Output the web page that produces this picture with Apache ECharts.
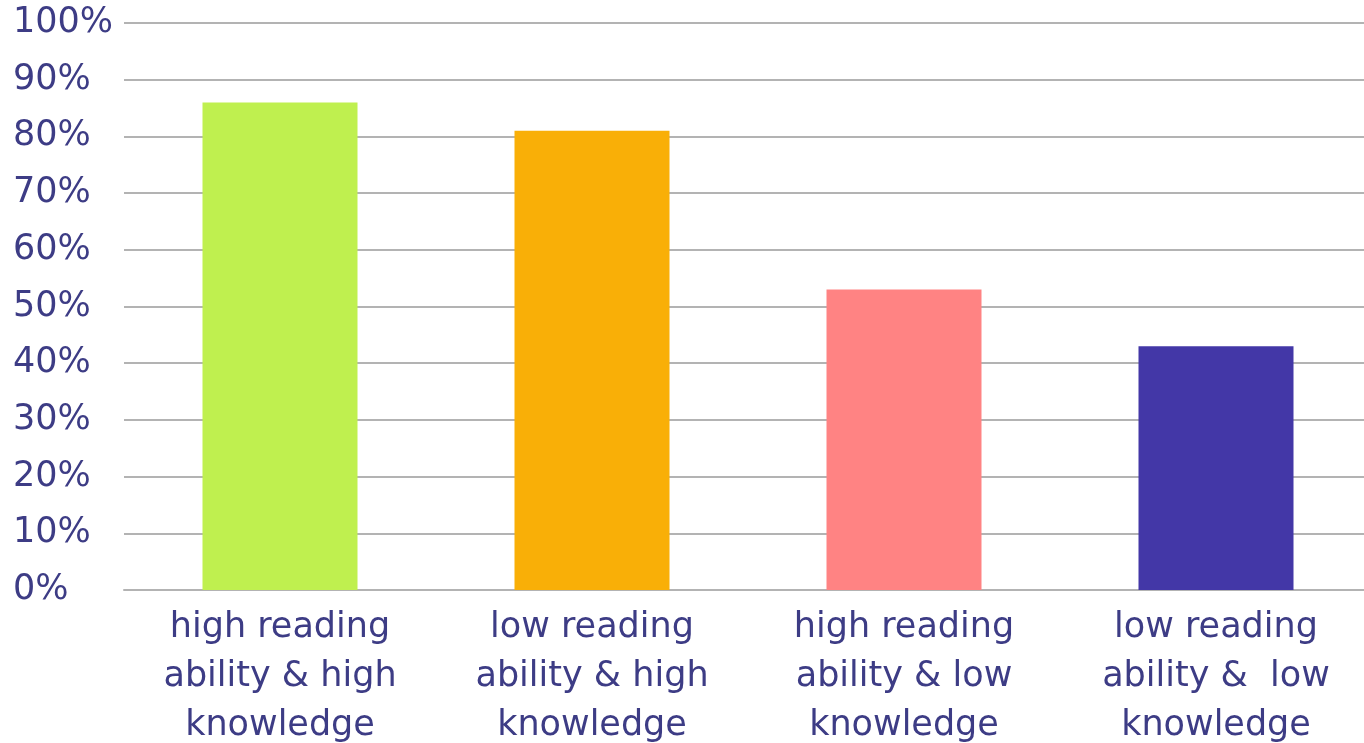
<!DOCTYPE html>
<html>
<head>
<meta charset="utf-8">
<script src="https://cdn.jsdelivr.net/npm/echarts@6/dist/echarts.min.js"></script>
<style>
  html, body { margin: 0; padding: 0; background: #fff; }
  #chart { width: 1364px; height: 743px; }
</style>
</head>
<body>
<div id="chart"></div>
<script>
const categories = [
  'high reading\nability & high\nknowledge',
  'low reading\nability & high\nknowledge',
  'high reading\nability & low\nknowledge',
  'low reading\nability &  low\nknowledge'
]
const values = [86, 81, 53, 43]
const colors = ['#bff04f', '#f9af07', '#ff8383', '#4337a7']

const dataOptions = values.map((v, i) => ({
  value: v,
  itemStyle: { color: colors[i] }
}))

const chart = echarts.init(document.getElementById('chart'))
chart.setOption({
  animation: false,
  grid: {
    left: 124,
    top: 23,
    width: 1248,
    bottom: 153,
    containLabel: false,
    outerBoundsMode: 'none'
  },
  xAxis: {
    type: 'category',
    data: categories,
    axisTick: { show: false },
    axisLine: { lineStyle: { color: '#b3b3b3', width: 2 } },
    axisLabel: {
      color: '#3d3c85',
      fontFamily: 'DejaVu Sans',
      fontSize: 35,
      lineHeight: 49,
      margin: 13,
      interval: 0
    }
  },
  yAxis: {
    type: 'value',
    min: 0,
    max: 100,
    interval: 10,
    axisLine: { show: false },
    axisTick: { show: false },
    splitLine: { lineStyle: { color: '#b3b3b3', width: 2 } },
    axisLabel: {
      formatter: '{value}%',
      color: '#3d3c85',
      fontFamily: 'DejaVu Sans',
      fontSize: 35,
      align: 'left',
      margin: 111,
      padding: [14, 0, 0, 0]
    }
  },
  series: [
    {
      type: 'bar',
      barWidth: 155,
      data: dataOptions
    }
  ]
})
</script>
</body>
</html>
